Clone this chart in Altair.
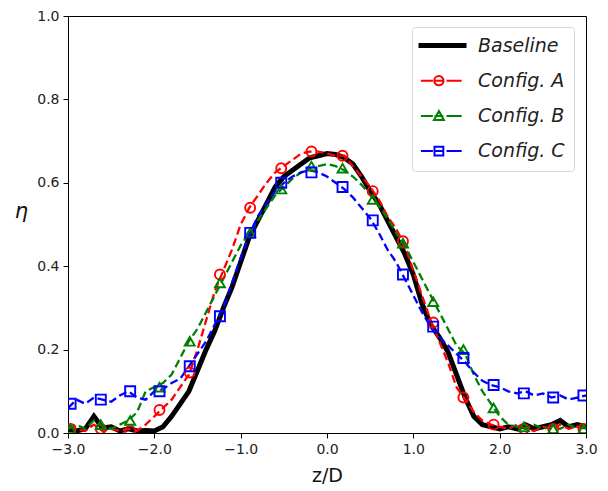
import altair as alt
import pandas as pd

# ---------------- data ----------------
series_names = ["Baseline", "Config. A", "Config. B", "Config. C"]
series_colors = ["#000000", "#ff0000", "#008000", "#0000ff"]

z_grid = [-3.0, -2.9, -2.8, -2.7, -2.6, -2.5, -2.4, -2.3, -2.2, -2.1, -2.0,
          -1.9, -1.8, -1.7, -1.6, -1.5, -1.4, -1.3, -1.2, -1.1, -1.0,
          -0.9, -0.8, -0.7, -0.6, -0.5, -0.4, -0.3, -0.2, -0.1, 0.0,
          0.1, 0.2, 0.3, 0.4, 0.5, 0.6, 0.7, 0.8, 0.9, 1.0,
          1.1, 1.2, 1.3, 1.4, 1.5, 1.6, 1.7, 1.8, 1.9, 2.0,
          2.1, 2.2, 2.3, 2.4, 2.5, 2.6, 2.7, 2.8, 2.9, 3.0]

eta_baseline = [0.01, 0.005, 0.01, 0.04, 0.012, 0.015, 0.005, 0.01, 0.005, 0.006, 0.005,
                0.015, 0.04, 0.07, 0.1, 0.15, 0.2, 0.245, 0.3, 0.35, 0.41,
                0.47, 0.51, 0.55, 0.59, 0.615, 0.63, 0.645, 0.66, 0.665, 0.67,
                0.668, 0.66, 0.645, 0.615, 0.58, 0.55, 0.51, 0.47, 0.43, 0.38,
                0.31, 0.26, 0.23, 0.195, 0.14, 0.085, 0.04, 0.02, 0.015, 0.01,
                0.015, 0.01, 0.02, 0.01, 0.015, 0.02, 0.03, 0.015, 0.02, 0.015]

eta_a = [0.015, 0.01, 0.005, 0.02, 0.005, 0.01, 0.005, 0.01, 0.005, 0.02, 0.04,
         0.06, 0.08, 0.11, 0.14, 0.2, 0.27, 0.34, 0.39, 0.44, 0.5,
         0.54, 0.57, 0.6, 0.625, 0.64, 0.655, 0.67, 0.675, 0.675, 0.67,
         0.665, 0.665, 0.64, 0.615, 0.59, 0.56, 0.52, 0.49, 0.45, 0.39,
         0.33, 0.27, 0.22, 0.17, 0.11, 0.08, 0.05, 0.03, 0.02, 0.015,
         0.01, 0.02, 0.01, 0.005, 0.015, 0.01, 0.02, 0.01, 0.015, 0.01]

eta_b = [0.01, 0.02, 0.01, 0.03, 0.015, 0.01, 0.02, 0.03, 0.05, 0.1, 0.11,
         0.12, 0.14, 0.18, 0.22, 0.25, 0.29, 0.33, 0.37, 0.41, 0.45,
         0.48, 0.51, 0.54, 0.57, 0.59, 0.61, 0.625, 0.635, 0.64, 0.645,
         0.64, 0.63, 0.615, 0.595, 0.57, 0.545, 0.515, 0.48, 0.45, 0.41,
         0.37, 0.33, 0.29, 0.25, 0.21, 0.19, 0.14, 0.1, 0.07, 0.04,
         0.02, 0.015, 0.01, 0.02, 0.01, 0.015, 0.01, 0.02, 0.01, 0.015]

eta_c = [0.06, 0.08, 0.07, 0.085, 0.08, 0.075, 0.09, 0.1, 0.085, 0.08, 0.1,
         0.105, 0.12, 0.13, 0.16, 0.19, 0.22, 0.26, 0.3, 0.36, 0.42,
         0.475, 0.52, 0.55, 0.58, 0.6, 0.615, 0.625, 0.63, 0.625, 0.615,
         0.6, 0.585, 0.565, 0.54, 0.515, 0.48, 0.44, 0.41, 0.37, 0.33,
         0.29, 0.255, 0.23, 0.21, 0.19, 0.17, 0.145, 0.125, 0.115, 0.11,
         0.1, 0.095, 0.1, 0.09, 0.095, 0.085, 0.09, 0.08, 0.085, 0.09]

marker_z = [-2.97, -2.62, -2.28, -1.94, -1.59, -1.24, -0.89, -0.53, -0.18,
            0.18, 0.53, 0.88, 1.23, 1.58, 1.93, 2.28, 2.62, 2.97]
marker_a = [0.01, 0.01, 0.005, 0.055, 0.145, 0.38, 0.54, 0.635, 0.675,
            0.665, 0.58, 0.46, 0.265, 0.085, 0.02, 0.01, 0.01, 0.01]
marker_b = [0.01, 0.02, 0.03, 0.11, 0.22, 0.36, 0.48, 0.585, 0.64,
            0.635, 0.56, 0.455, 0.315, 0.2, 0.06, 0.015, 0.01, 0.01]
marker_c = [0.07, 0.08, 0.10, 0.10, 0.16, 0.28, 0.48, 0.60, 0.625,
            0.59, 0.51, 0.38, 0.255, 0.18, 0.115, 0.095, 0.085, 0.09]

x_ticks = [-3, -2, -1, 0, 1, 2, 3]
y_ticks = [0.0, 0.2, 0.4, 0.6, 0.8, 1.0]

# ---------------- tables ----------------
line_rows = []
for name, vals in zip(series_names, [eta_baseline, eta_a, eta_b, eta_c]):
    for i, (z, v) in enumerate(zip(z_grid, vals)):
        line_rows.append({"series": name, "z": z, "eta": v, "order": i})
lines_df = pd.DataFrame(line_rows)

marker_rows = []
for name, vals in zip(series_names[1:], [marker_a, marker_b, marker_c]):
    for z, v in zip(marker_z, vals):
        marker_rows.append({"series": name, "z": z, "eta": v})
markers_df = pd.DataFrame(marker_rows)

# legend glyphs (custom paths, unit = sqrt(size)/2 px)
legend_paths = [
    "M-3,-0.2 H3 M-3,0 H3 M-3,0.2 H3",
    "M-2.7,0 H-1.2 M-1.0,0 H0.1 M0.5,0 H2.4 "
    "M-1.03,0 a0.58,0.58 0 1,0 1.16,0 a0.58,0.58 0 1,0 -1.16,0",
    "M-2.7,0 H-1.2 M-1.0,0 H0.1 M0.5,0 H2.4 "
    "M-0.45,-0.62 L0.17,0.5 L-1.07,0.5 Z",
    "M-2.7,0 H-1.2 M-1.0,0 H0.1 M0.5,0 H2.4 "
    "M-1.0,-0.55 H0.1 V0.55 H-1.0 Z",
]
marker_shapes = ["circle", "circle", "triangle-up", "square"]

x_scale = alt.Scale(domain=[-3, 3], nice=False, zero=False)
y_scale = alt.Scale(domain=[0, 1], nice=False)
color_scale = alt.Scale(domain=series_names, range=series_colors)

x_enc = alt.X("z:Q", scale=x_scale,
              axis=alt.Axis(values=x_ticks, format=".1f", title="z/D"))
y_enc = alt.Y("eta:Q", scale=y_scale,
              axis=alt.Axis(values=y_ticks, format=".1f", title="η",
                            titleAngle=0, titleFontStyle="italic",
                            titleX=-47, titleY=195, titleAlign="center",
                            titleBaseline="middle", titleFontSize=21))

base_line = alt.Chart(lines_df).transform_filter(
    "datum.series == 'Baseline'"
).mark_line(clip=True, strokeWidth=5).encode(
    x=x_enc,
    y=y_enc,
    color=alt.Color("series:N", scale=color_scale, legend=None),
    order="order:Q",
)

config_lines = alt.Chart(lines_df).transform_filter(
    "datum.series != 'Baseline'"
).mark_line(clip=True, strokeWidth=2.3, strokeDash=[8, 4]).encode(
    x=x_enc,
    y=y_enc,
    color=alt.Color("series:N", scale=color_scale, legend=None),
    order="order:Q",
)

points = alt.Chart(markers_df).mark_point(filled=False, size=100, strokeWidth=1.9,
                                          opacity=1, clip=True).encode(
    x=x_enc,
    y=y_enc,
    color=alt.Color("series:N", scale=color_scale, legend=None),
    shape=alt.Shape("series:N",
                    scale=alt.Scale(domain=series_names, range=marker_shapes),
                    legend=None),
)

leg = alt.Legend(title=None, orient="none", legendX=344, legendY=11)
legend_layer = alt.Chart(markers_df).transform_filter("datum.z > 100").mark_point(
    filled=False, size=256, strokeWidth=2, opacity=1).encode(
    x=x_enc,
    y=y_enc,
    color=alt.Color("series:N", scale=color_scale, legend=leg),
    shape=alt.Shape("series:N",
                    scale=alt.Scale(domain=series_names, range=legend_paths),
                    legend=leg),
)

chart = alt.layer(base_line, config_lines, points, legend_layer).resolve_scale(
    color="independent", shape="independent"
).properties(
    width=518, height=417,
    autosize=alt.AutoSizeParams(type="none"),
    padding={"left": 68, "top": 16, "right": 22, "bottom": 58},
).configure_view(
    stroke="#000000", strokeWidth=1
).configure_axis(
    grid=False,
    domainColor="#000000", domainWidth=1,
    tickColor="#000000", tickSize=5, tickWidth=1,
    labelFont="DejaVu Sans", labelFontSize=14, labelColor="#222222",
    labelPadding=4,
    titleFont="DejaVu Sans", titleFontWeight="normal", titleColor="#111111",
    labelFlush=False,
).configure_axisX(
    titleFontSize=19, titlePadding=10
).configure_legend(
    fillColor="#ffffff", strokeColor="#d6d6d6", cornerRadius=3,
    padding=9, rowPadding=15.2,
    labelFont="DejaVu Sans", labelFontStyle="italic", labelFontSize=19,
    labelColor="#222222",
    symbolSize=256, symbolStrokeWidth=2, symbolOffset=12, labelOffset=26,
)

chart.save("out.html", embed_options={"renderer": "svg", "actions": False})
